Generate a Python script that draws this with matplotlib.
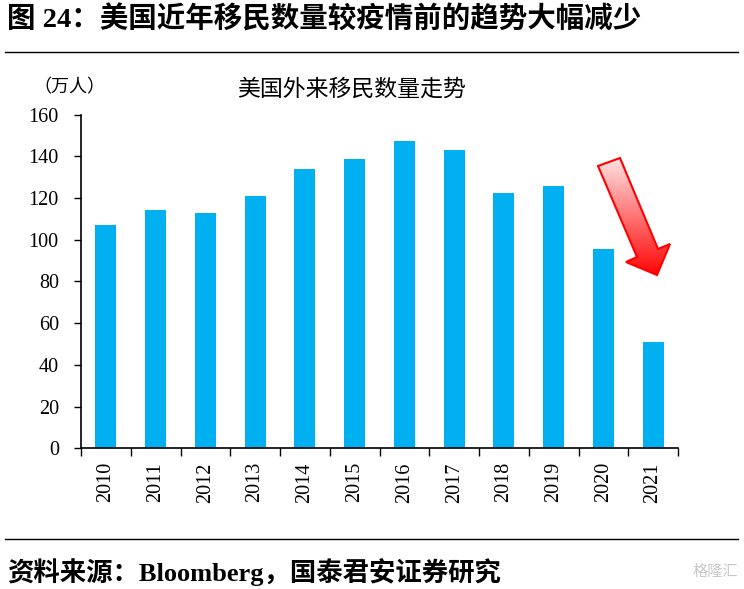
import numpy as np
import matplotlib
matplotlib.use('Agg')
import matplotlib.pyplot as plt
from matplotlib.patches import Polygon
from matplotlib.colors import LinearSegmentedColormap

plt.rcParams['font.family'] = ['Liberation Serif', 'Noto Sans CJK SC']

years = ['2010', '2011', '2012', '2013', '2014', '2015',
         '2016', '2017', '2018', '2019', '2020', '2021']
immigrants = [107.1, 114.3, 112.8, 121.0, 134.0, 138.7,
              147.4, 143.1, 122.4, 125.8, 95.6, 51.0]

W, H = 744, 589
fig = plt.figure(figsize=(W / 100, H / 100), dpi=100)

ax = fig.add_axes([81 / W, 1 - 448.3 / H, (678 - 81) / W, (448.3 - 114.7) / H])
x = np.arange(len(years))
ax.bar(x, immigrants, width=0.42, color='#00B0F0')
ax.set_xlim(-0.5, len(years) - 0.5)
ax.set_ylim(0, 160)
ax.set_yticks(np.arange(0, 161, 20))
ax.tick_params(axis='y', direction='out', length=5, width=1, labelsize=14.5, pad=11)
ax.set_xticks(x)
ax.set_xticklabels(years, rotation=90, fontsize=14.5)
ax.tick_params(axis='x', length=0, pad=10)
ax.set_xticks(np.arange(-0.5, len(years)), minor=True)
ax.tick_params(axis='x', which='minor', direction='out', length=6, width=1)
for s in ['top', 'right']:
    ax.spines[s].set_visible(False)
for s in ['left', 'bottom']:
    ax.spines[s].set_linewidth(1.2)

# overlay in pixel coordinates for text, rules and the arrow
ov = fig.add_axes([0, 0, 1, 1], zorder=5)
ov.set_xlim(0, W)
ov.set_ylim(H, 0)
ov.axis('off')

ov.text(7, 19, '图 24：美国近年移民数量较疫情前的趋势大幅减少', fontsize=20.5,
        fontweight='bold', va='center', ha='left')
ov.plot([5, 738], [52, 52], color='black', lw=1)
ov.text(33, 88, '（万人）', fontsize=13, va='center', ha='left')
ov.text(351, 90, '美国外来移民数量走势', fontsize=16.5, va='center', ha='center')
ov.plot([5, 738], [539, 539], color='black', lw=1)
ov.text(7, 572, '资料来源：Bloomberg，国泰君安证券研究', fontsize=19,
        fontweight='bold', va='center', ha='left')
ov.text(738, 572, '格隆汇', fontsize=11, color='#c8c8c8', va='center', ha='right')

# red gradient arrow
pts = [(598, 166), (620, 158), (658, 249), (670, 244), (657, 275), (626, 262), (637, 257)]
arrow = Polygon(pts, closed=True, facecolor='none', edgecolor='#ff0000', lw=1.5, zorder=6)
ov.add_patch(arrow)
grad = np.linspace(0, 1, 256).reshape(-1, 1)
cmap = LinearSegmentedColormap.from_list('pinkred', ['#ffe6e6', '#ff0000'])
im = ov.imshow(grad, cmap=cmap, aspect='auto', extent=(595, 672, 278, 156), zorder=5)
im.set_clip_path(arrow)

fig.savefig('out.png', dpi=100)
